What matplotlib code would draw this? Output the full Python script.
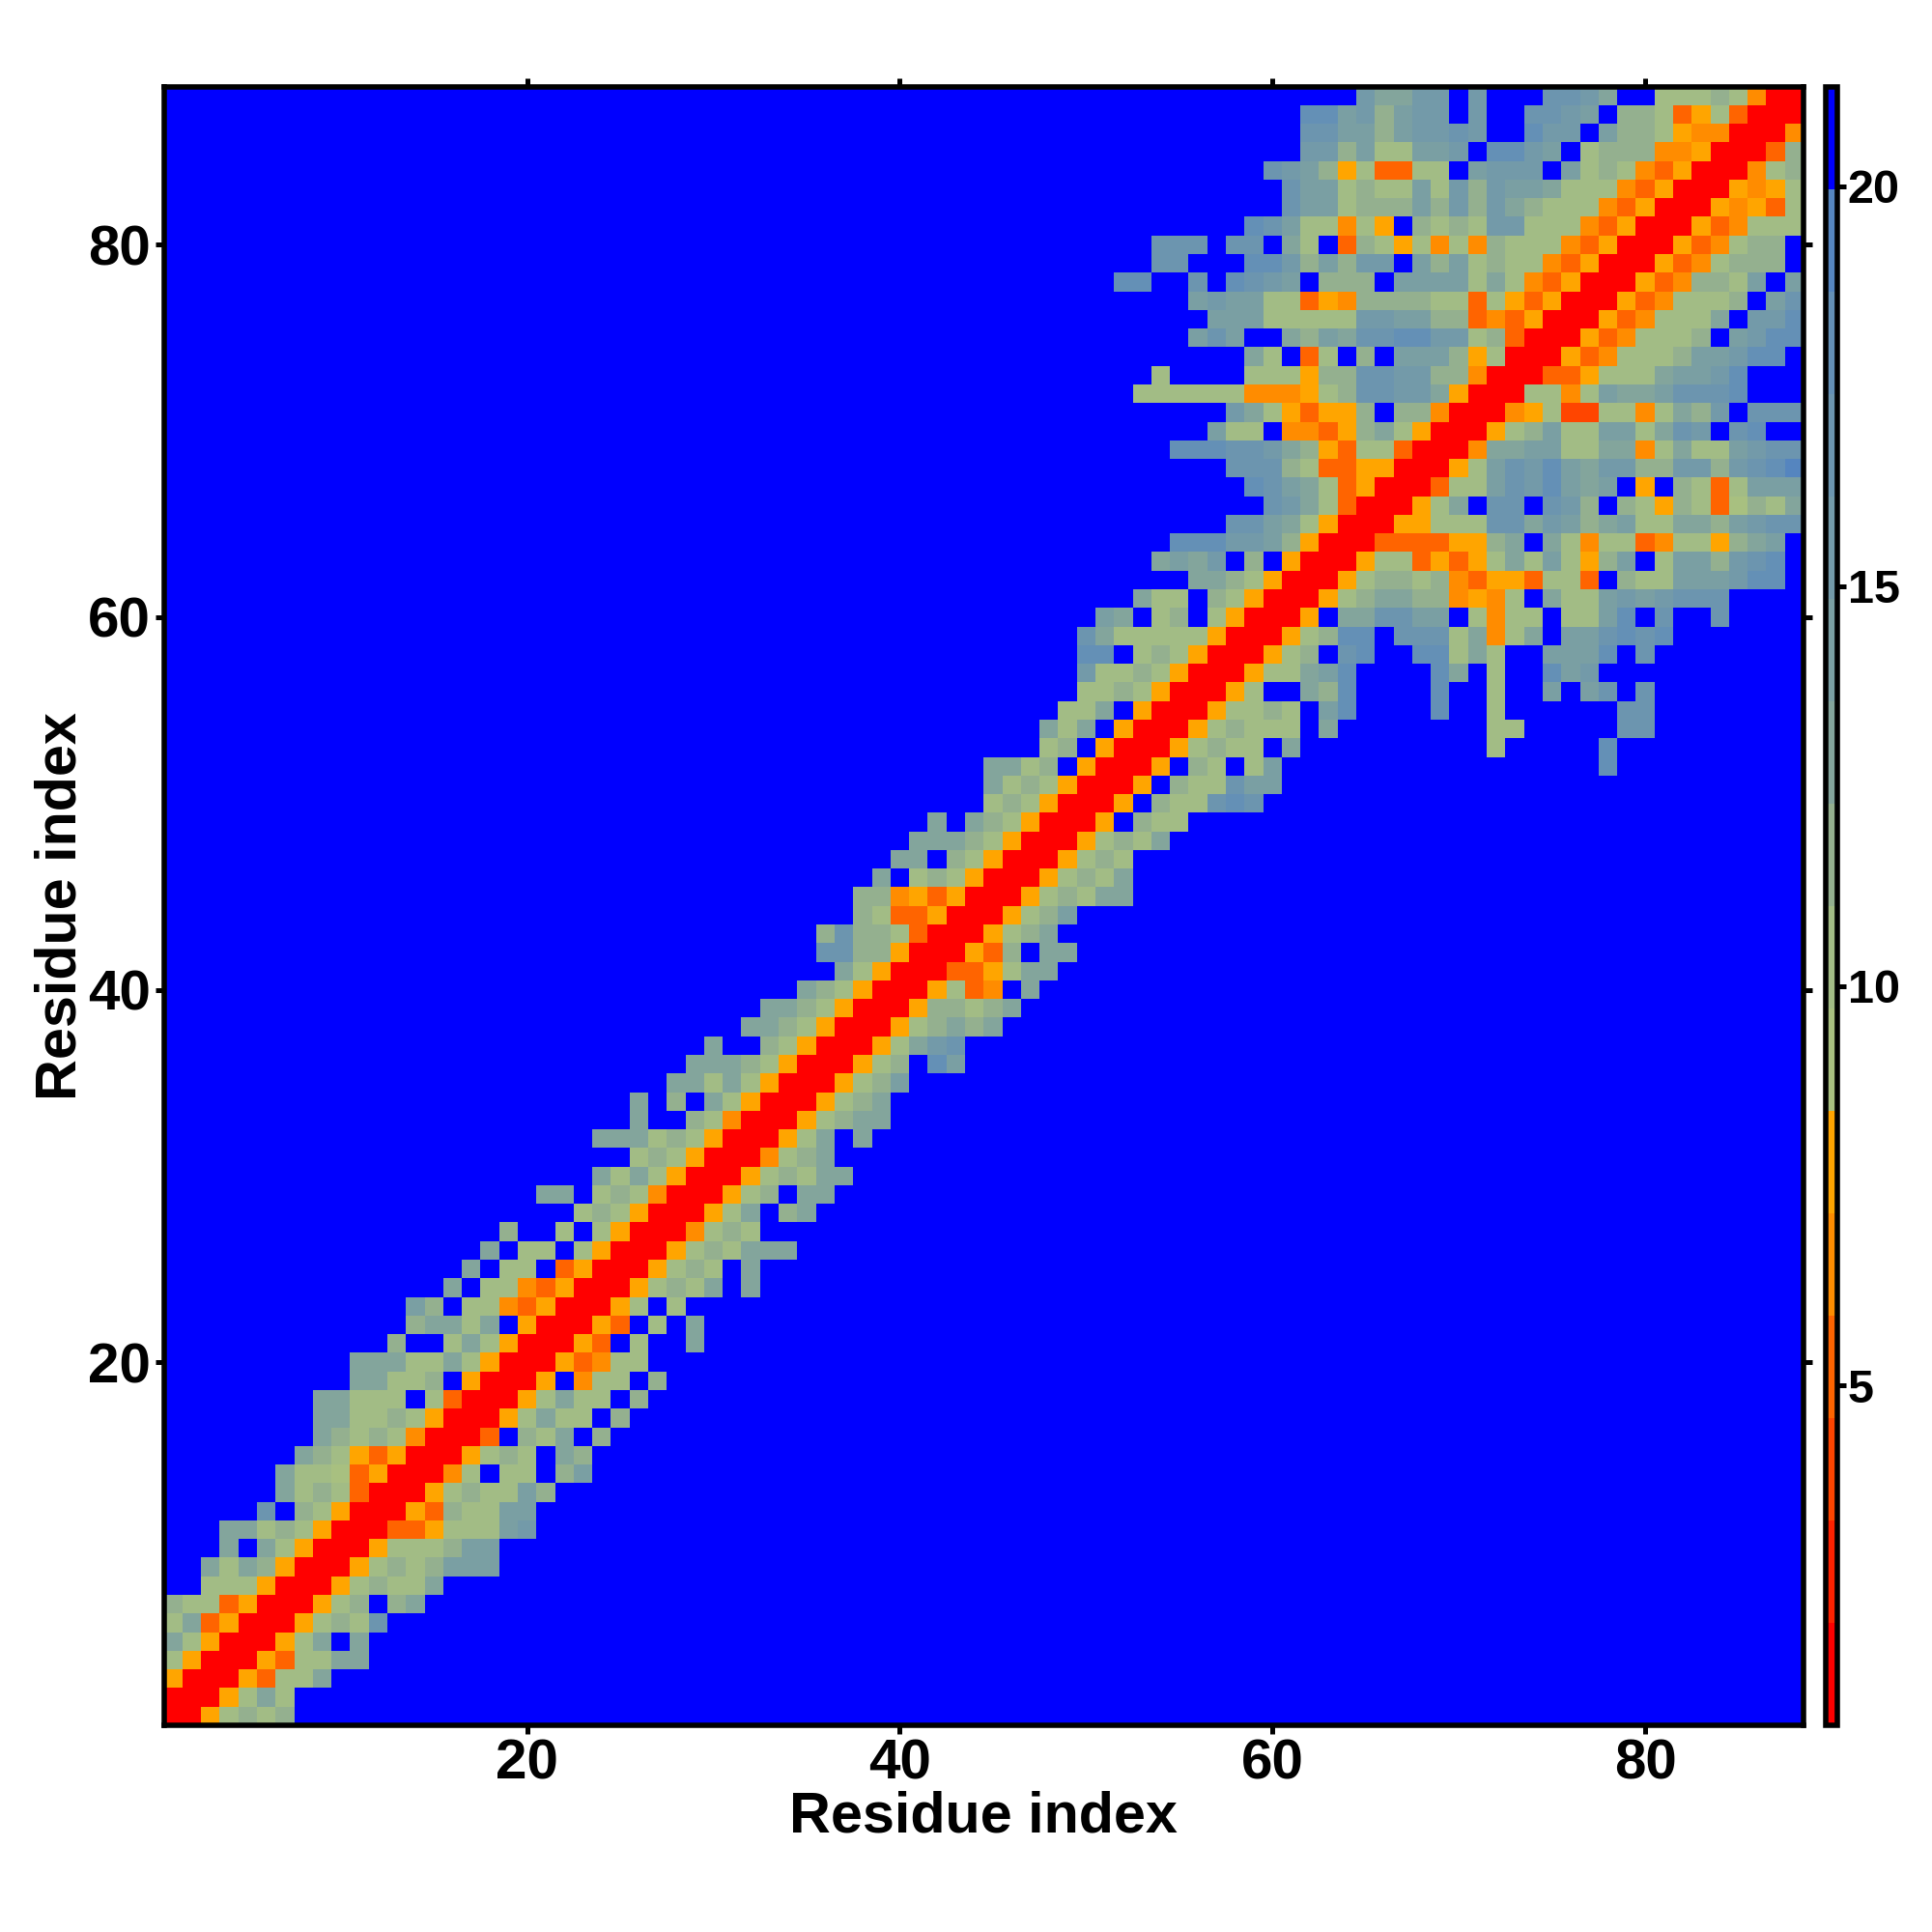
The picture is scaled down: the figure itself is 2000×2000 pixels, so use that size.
import numpy as np
import matplotlib
matplotlib.use('Agg')
import matplotlib.pyplot as plt
from matplotlib.colors import ListedColormap, BoundaryNorm

plt.rcParams['font.family'] = ['Liberation Sans', 'DejaVu Sans']
plt.rcParams['font.weight'] = 'bold'

n_residues = 88

# first residue (x) that is drawn in each row, rows go from residue 1 upwards
row_start = [1, 1, 1, 1, 1, 1, 1, 3, 3, 4,
             4, 6, 7, 7, 8, 9, 9, 9, 11, 11,
             13, 14, 14, 16, 17, 18, 19, 23, 21, 24,
             26, 24, 26, 26, 28, 29, 30, 32, 33, 35,
             37, 36, 36, 38, 38, 39, 40, 41, 42, 45,
             45, 45, 48, 48, 49, 50, 50, 50, 50, 51,
             53, 56, 54, 55, 58, 60, 59, 58, 55, 57,
             58, 53, 54, 59, 56, 57, 56, 52, 54, 54,
             59, 61, 61, 60, 62, 62, 62, 65]

# distance bin of each cell, one hex digit per residue (f = 15 = beyond cutoff)
row_bins = [
    "0057878", "0005797", "500053779", "75000537799", "975000579f9",
    "79350005787c", "87735000578f89", "7775000578779", "9798500057878aaa",
    "9f97500057778aa", "997875000335777ab", "cf87500053877aa", "9787300057877a8",
    "97763500047f77f8a", "9875350005787f98", "9878740003f879f8", "997787500057977f8",
    "99777f7300057977f8", "99778f50005f477f8", "9997797500053477", "8ff797500053f7ff9",
    "89979f500053f7f9", "a8f7743500057f7", "9f7743500057879f9", "9f77f350005787f9",
    "9f77f750005787999", "8ff7f750004787", "7875000579f89", "99f7874000578f99",
    "97975000578799", "78750004789", "9997875000579f9", "9ff87400057899",
    "9f8f9750005789", "997975000578a", "999875000578fda", "9ff875000579bc",
    "99875000578989", "99875000588789", "98750005734f9", "975000335799",
    "cc885000538f99", "8c88730005789", "87335000578a", "884535000578799",
    "9f787500057879", "99f8750005787", "99987500057879", "9f98750005f877",
    "78750005f877cdc", "978750005f877caa",
    "9978f50005f87f7afffffffffffffffffd",
    "78f500057877f9ffffffffff7fffffd",
    "979f5000578777f9ffffffff77fffffcc",
    "779f500057787fadffffdff7ffffffcc",
    "7787500057ff98dffffdff7ffafacfc",
    "b778750005779adffffd9f7ffdab",
    "ddf7875000578fcdffdd797ffaaadfc",
    "c9777775000578ddfccc79479faacdcd",
    "a9f78f750005f99ccaaf7477f77adfcffc",
    "977f87500057899884547f977ababccc",
    "9987500057887843553773f877aaabdd",
    "9a9bf8f50005773535797a758af7aa8bcd",
    "dddbba8500033335589f974773477589a",
    "cca97500055777cc9ba89a77998abcc",
    "cb973000579fccfcb8f8758736879",
    "dca9735000377acbda9af5f8737aaa",
    "ccc87335500057acbda9bb88bb8bcde",
    "dddccb9853773000499aa779947977abcc",
    "a77f44358975000578a77aa79cbfcdff",
    "b9753558f88400045722774798bfccc",
    "777777444578ccbb950007747a99acccd",
    "7ffff777588ccbb8840003357779aabd",
    "97f37f8faaa8570005347778aabdd",
    "acaff98a9ccddbb7830005347778fabdd",
    "aaa77777bbaa8834350005347779fbbd",
    "abaa77354888877375350005347778fac",
    "ddffcfdcbaf888faaaa797435000534887afa",
    "ccfffddb8a8bbfa8a78774350005347888",
    "cccfccf97f387574748777435000534788",
    "dca77475f8787bb777435000534777",
    "caa7888a8b8b9877743500054537",
    "caa7877a7b8baa97774350005457",
    "cba8573377fabbbfa787435000478",
    "bb8a77aabfddbaf788844500038",
    "ccaa8abbcbffdbbfa8875440004",
    "ddab8abbfbffccbaf8873573000",
    "b99bbfbfffccb9ff77787400",
]

bin_colors = ['#FF0000', '#FF2200', '#FF4500', '#FF6400', '#FF8C00', '#FFA500',
              '#A8C080', '#A2BC85', '#94B08F', '#83A59C', '#7A9FA3', '#739AA9',
              '#6C95AF', '#6490B6', '#5585BF', '#0000FF']
bin_edges = np.linspace(0.75, 21.25, 17)
x_ticks = [20, 40, 60, 80]
y_ticks = [20, 40, 60, 80]
cbar_ticks = [5, 10, 15, 20]

###build the matrix, everything not listed is beyond the cutoff
mids = (bin_edges[:-1] + bin_edges[1:]) / 2
dist = np.full((n_residues, n_residues), mids[15])
for r, (s, cells) in enumerate(zip(row_start, row_bins)):
    for k, ch in enumerate(cells):
        dist[r, s - 1 + k] = mids[int(ch, 16)]

cmap = ListedColormap(bin_colors)
norm = BoundaryNorm(bin_edges, cmap.N)

fig = plt.figure(figsize=(10, 10), dpi=200)
ax = fig.add_axes([169.5/2000, 214/2000, 1697.5/2000, 1696.5/2000])
edges = np.arange(n_residues + 1) + 0.5
mesh = ax.pcolormesh(edges, edges, dist, cmap=cmap, norm=norm)

ax.set_xlim(0.5, n_residues + 0.5)
ax.set_ylim(0.5, n_residues + 0.5)
ax.set_xticks(x_ticks)
ax.set_yticks(y_ticks)
ax.tick_params(axis='both', which='both', direction='out', length=3.2, width=1.8,
               top=True, right=True, labelsize=21, pad=1.6)
ax.set_xlabel('Residue index', fontsize=21.4, fontweight='bold', va='center')
ax.set_ylabel('Residue index', fontsize=21.4, fontweight='bold', va='center')
ax.xaxis.set_label_coords(0.5, -(1881 - 1786) / 1696.5)
ax.yaxis.set_label_coords(-(169.5 - 63.5) / 1697.5, 0.5)
for sp in ax.spines.values():
    sp.set_linewidth(2)

cax = fig.add_axes([1889.5/2000, 214/2000, 12.5/2000, 1696.5/2000])
cb = fig.colorbar(mesh, cax=cax, ticks=cbar_ticks)
cb.ax.minorticks_off()
cb.ax.tick_params(length=3.2, width=1.8, labelsize=17.5, pad=0.6)
cb.outline.set_linewidth(2)

plt.savefig('out.png', dpi=200)
